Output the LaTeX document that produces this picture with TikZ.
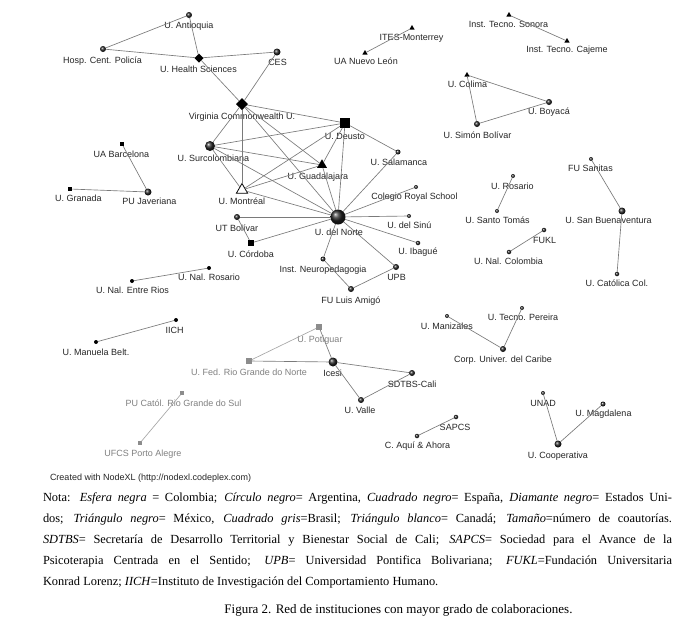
\documentclass[tikz,border=0pt]{standalone}
\usepackage{fontspec}
\setmainfont{Liberation Serif}
\newfontfamily\lblfont{Liberation Sans}
\usetikzlibrary{shapes.geometric}
\begin{document}
\begin{tikzpicture}[x=1pt,y=-1pt,
  every node/.style={inner sep=0pt, outer sep=0pt},
  lbl/.style={anchor=base, font=\lblfont\fontsize{9}{10}\selectfont, text=black!85},
  glbl/.style={lbl, text=black!50},
  ballN/.style={circle, shading=ball, ball color=black!85, minimum size=#1},
  dotN/.style={circle, fill=black, minimum size=#1},
  sqN/.style={rectangle, fill=black, minimum size=#1},
  gsqN/.style={rectangle, fill=black!45, minimum size=#1},
  diaN/.style={diamond, fill=black, minimum size=#1},
  triN/.style={regular polygon, regular polygon sides=3, fill=black, minimum size=#1},
  wtriN/.style={regular polygon, regular polygon sides=3, draw=black, fill=white, line width=0.8pt, minimum size=#1},
  lnk/.style={draw=black!52, line width=0.65pt},
  glnk/.style={draw=black!35, line width=0.65pt},
]
\fill[white] (0,0) rectangle (691,630);
\useasboundingbox (0,0) rectangle (691,630);

% ---------- nodes ----------
\node[ballN=6] (antioquia) at (189,15) {};
\node[lbl] (antioquiaL) at (189,28.3) {U. Antioquia};
\node[ballN=6] (hosp) at (103,49) {};
\node[lbl] (hospL) at (102.5,63.3) {Hosp. Cent. Policía};
\node[diaN=9] (health) at (199,58) {};
\node[lbl] (healthL) at (198.5,72.3) {U. Health Sciences};
\node[ballN=7] (ces) at (277,52) {};
\node[lbl] (cesL) at (277.5,65.3) {CES};
\node[diaN=12] (virginia) at (242,104) {};
\node[lbl] (virginiaL) at (242,119.3) {Virginia Commonwealth U.};
\node[sqN=10] (deusto) at (345,123) {};
\node[lbl] (deustoL) at (345,139.3) {U. Deusto};
\node[ballN=10] (surco) at (210,146) {};
\node[lbl] (surcoL) at (213.5,161.3) {U. Surcolombiana};
\node[ballN=5] (salamanca) at (398,152) {};
\node[lbl] (salamancaL) at (399,165.3) {U. Salamanca};
\node[triN=11.5] (guadalajara) at (322,165) {};
\node[lbl] (guadalajaraL) at (318,179.3) {U. Guadalajara};
\node[wtriN=13] (montreal) at (242,190) {};
\node[lbl] (montrealL) at (242,204.3) {U. Montréal};
\node[ballN=4] (royal) at (416,187) {};
\node[lbl] (royalL) at (414.5,199.3) {Colegio Royal School};
\node[ballN=15] (norte) at (338,217) {};
\node[lbl] (norteL) at (339,235.3) {U. del Norte};
\node[ballN=6] (utbolivar) at (237,217) {};
\node[lbl] (utbolivarL) at (237,231.3) {UT Bolívar};
\node[sqN=6] (cordoba) at (251,243) {};
\node[lbl] (cordobaL) at (251,257.3) {U. Córdoba};
\node[ballN=4] (sinu) at (409,216) {};
\node[lbl] (sinuL) at (409.5,228.3) {U. del Sinú};
\node[ballN=4.5] (ibague) at (418,243) {};
\node[lbl] (ibagueL) at (418,254.3) {U. Ibagué};
\node[ballN=5] (neuro) at (323,259) {};
\node[lbl] (neuroL) at (323,272.3) {Inst. Neuropedagogia};
\node[ballN=6] (upb) at (396,267) {};
\node[lbl] (upbL) at (396.5,280.3) {UPB};
\node[ballN=6] (amigo) at (351,289) {};
\node[lbl] (amigoL) at (351,303.3) {FU Luis Amigó};
\node[dotN=4] (nalrosario) at (209,268) {};
\node[lbl] (nalrosarioL) at (209,280.3) {U. Nal. Rosario};
\node[dotN=4] (entrerios) at (132,281) {};
\node[lbl] (entreriosL) at (132.5,293.3) {U. Nal. Entre Rios};
\node[dotN=4] (iich) at (176,320) {};
\node[lbl] (iichL) at (174.5,333.3) {IICH};
\node[dotN=4] (manuela) at (96,342) {};
\node[lbl] (manuelaL) at (96,355.3) {U. Manuela Belt.};
\node[sqN=4.5] (barcelona) at (122,144) {};
\node[lbl] (barcelonaL) at (121.5,157.3) {UA Barcelona};
\node[sqN=4.5] (granada) at (70,189) {};
\node[lbl] (granadaL) at (78.5,201.3) {U. Granada};
\node[ballN=7] (javeriana) at (148,192) {};
\node[lbl] (javerianaL) at (149.5,204.3) {PU Javeriana};
\node[triN=6] (ites) at (412,28) {};
\node[lbl] (itesL) at (411.5,40.3) {ITES-Monterrey};
\node[triN=6] (nuevoleon) at (365,53) {};
\node[lbl] (nuevoleonL) at (366,64.3) {UA Nuevo León};
\node[triN=6] (sonora) at (509,15) {};
\node[lbl] (sonoraL) at (508.5,27.3) {Inst. Tecno. Sonora};
\node[triN=6] (cajeme) at (567,41) {};
\node[lbl] (cajemeL) at (567,52.3) {Inst. Tecno. Cajeme};
\node[triN=6] (colima) at (467,75) {};
\node[lbl] (colimaL) at (467.5,87.3) {U. Colima};
\node[ballN=6] (boyaca) at (549,102) {};
\node[lbl] (boyacaL) at (549,114.3) {U. Boyacá};
\node[ballN=6] (simon) at (477,124) {};
\node[lbl] (simonL) at (477.5,138.3) {U. Simón Bolívar};
\node[ballN=4] (sanitas) at (591,159) {};
\node[lbl] (sanitasL) at (590.5,171.3) {FU Sanitas};
\node[ballN=4] (rosario) at (513,176) {};
\node[lbl] (rosarioL) at (512.5,189.3) {U. Rosario};
\node[ballN=4] (santotomas) at (497,211) {};
\node[lbl] (santotomasL) at (497.5,223.3) {U. Santo Tomás};
\node[ballN=7] (buenaventura) at (622,211) {};
\node[lbl] (buenaventuraL) at (608.5,223.3) {U. San Buenaventura};
\node[ballN=4.5] (fukl) at (544,230) {};
\node[lbl] (fuklL) at (544.5,243.3) {FUKL};
\node[ballN=4.5] (nalcolombia) at (509,252) {};
\node[lbl] (nalcolombiaL) at (508.5,264.3) {U. Nal. Colombia};
\node[ballN=4.5] (catolica) at (617,274) {};
\node[lbl] (catolicaL) at (617,286.3) {U. Católica Col.};
\node[gsqN=6] (potiguar) at (319,327) {};
\node[glbl] (potiguarL) at (320,342.3) {U. Potiguar};
\node[gsqN=6] (fed) at (249,361) {};
\node[glbl] (fedL) at (249,375.3) {U. Fed. Rio Grande do Norte};
\node[ballN=9] (icesi) at (333,362) {};
\node[lbl] (icesiL) at (332.5,376.3) {Icesi};
\node[ballN=6] (sdtbs) at (412,373) {};
\node[lbl] (sdtbsL) at (412,387.3) {SDTBS-Cali};
\node[ballN=6] (valle) at (361,400) {};
\node[lbl] (valleL) at (360,413.3) {U. Valle};
\node[ballN=4.5] (sapcs) at (456,417) {};
\node[lbl] (sapcsL) at (455,430.3) {SAPCS};
\node[ballN=4.5] (aqui) at (417,436) {};
\node[lbl] (aquiL) at (417.5,448.3) {C. Aquí \& Ahora};
\node[ballN=4] (manizales) at (447,316) {};
\node[lbl] (manizalesL) at (447,329.3) {U. Manizales};
\node[ballN=6] (caribe) at (503,349) {};
\node[lbl] (caribeL) at (503,362.3) {Corp. Univer. del Caribe};
\node[ballN=4] (pereira) at (522,308) {};
\node[lbl] (pereiraL) at (523,320.3) {U. Tecno. Pereira};
\node[ballN=4] (unad) at (543,393) {};
\node[lbl] (unadL) at (543,406.3) {UNAD};
\node[ballN=5] (magdalena) at (603,404) {};
\node[lbl] (magdalenaL) at (603.5,416.3) {U. Magdalena};
\node[ballN=7] (cooperativa) at (558,444) {};
\node[lbl] (cooperativaL) at (558,458.3) {U. Cooperativa};
\node[gsqN=3.5] (pucatol) at (182,393) {};
\node[glbl] (pucatolL) at (183.5,406.3) {PU Catól. Rio Grande do Sul};
\node[gsqN=3.5] (ufcs) at (140,443) {};
\node[glbl] (ufcsL) at (143,456.3) {UFCS Porto Alegre};

% ---------- edges ----------
\draw[lnk] (antioquia) -- (hosp);
\draw[lnk] (antioquia) -- (health);
\draw[lnk] (hosp) -- (health);
\draw[lnk] (health) -- (ces);
\draw[lnk] (health) -- (virginia);
\draw[lnk] (ces) -- (virginia);
\draw[lnk] (virginia) -- (deusto);
\draw[lnk] (virginia) -- (surco);
\draw[lnk] (virginia) -- (montreal);
\draw[lnk] (virginia) -- (guadalajara);
\draw[lnk] (virginia) -- (norte);
\draw[lnk] (deusto) -- (surco);
\draw[lnk] (deusto) -- (salamanca);
\draw[lnk] (deusto) -- (guadalajara);
\draw[lnk] (deusto) -- (montreal);
\draw[lnk] (deusto) -- (norte);
\draw[lnk] (surco) -- (guadalajara);
\draw[lnk] (surco) -- (montreal);
\draw[lnk] (surco) -- (norte);
\draw[lnk] (guadalajara) -- (montreal);
\draw[lnk] (guadalajara) -- (norte);
\draw[lnk] (montreal) -- (norte);
\draw[lnk] (salamanca) -- (norte);
\draw[lnk] (royal) -- (norte);
\draw[lnk] (sinu) -- (norte);
\draw[lnk] (ibague) -- (norte);
\draw[lnk] (utbolivar) -- (norte);
\draw[lnk] (utbolivar) -- (cordoba);
\draw[lnk] (cordoba) -- (norte);
\draw[lnk] (neuro) -- (norte);
\draw[lnk] (neuro) -- (amigo);
\draw[lnk] (upb) -- (norte);
\draw[lnk] (upb) -- (amigo);
\draw[lnk] (barcelona) -- (javeriana);
\draw[lnk] (granada) -- (javeriana);
\draw[lnk] (ites) -- (nuevoleon);
\draw[lnk] (sonora) -- (cajeme);
\draw[lnk] (colima) -- (boyaca);
\draw[lnk] (colima) -- (simon);
\draw[lnk] (simon) -- (boyaca);
\draw[lnk] (rosario) -- (santotomas);
\draw[lnk] (sanitas) -- (buenaventura);
\draw[lnk] (buenaventura) -- (catolica);
\draw[lnk] (fukl) -- (nalcolombia);
\draw[lnk] (nalrosario) -- (entrerios);
\draw[lnk] (iich) -- (manuela);
\draw[glnk] (potiguar) -- (fed);
\draw[lnk] (potiguar) -- (icesi);
\draw[lnk] (fed) -- (icesi);
\draw[lnk] (icesi) -- (sdtbs);
\draw[lnk] (icesi) -- (valle);
\draw[lnk] (valle) -- (sdtbs);
\draw[lnk] (sapcs) -- (aqui);
\draw[lnk] (manizales) -- (caribe);
\draw[lnk] (pereira) -- (caribe);
\draw[lnk] (unad) -- (cooperativa);
\draw[lnk] (magdalena) -- (cooperativa);
\draw[glnk] (pucatol) -- (ufcs);

% ---------- footer ----------
\node[anchor=base west, font=\lblfont\fontsize{9}{10}\selectfont, text=black!85] (credit) at (50,480) {Created with NodeXL (http://nodexl.codeplex.com)};
\node[anchor=north west, text width=629pt, align=justify, font=\fontsize{12.4}{20.9}\selectfont] (nota) at (43,493) {Nota: \textit{Esfera negra} = Colombia; \textit{Círculo negro}= Argentina, \textit{Cuadrado negro}= España, \textit{Diamante negro}= Estados Uni-\linebreak dos; \textit{Triángulo negro}= México, \textit{Cuadrado gris}=Brasil; \textit{Triángulo blanco}= Canadá; \textit{Tamaño}=número de coautorías.\linebreak \textit{SDTBS}= Secretaría de Desarrollo Territorial y Bienestar Social de Cali; \textit{SAPCS}= Sociedad para el Avance de la\linebreak Psicoterapia Centrada en el Sentido; \textit{UPB}= Universidad Pontifica Bolivariana; \textit{FUKL}=Fundación Universitaria\linebreak Konrad Lorenz; \textit{IICH}=Instituto de Investigación del Comportamiento Humano.};
\node[anchor=base, font=\fontsize{13}{15}\selectfont] (caption) at (398.5,613) {Figura 2. Red de instituciones con mayor grado de colaboraciones.};
\end{tikzpicture}
\end{document}
